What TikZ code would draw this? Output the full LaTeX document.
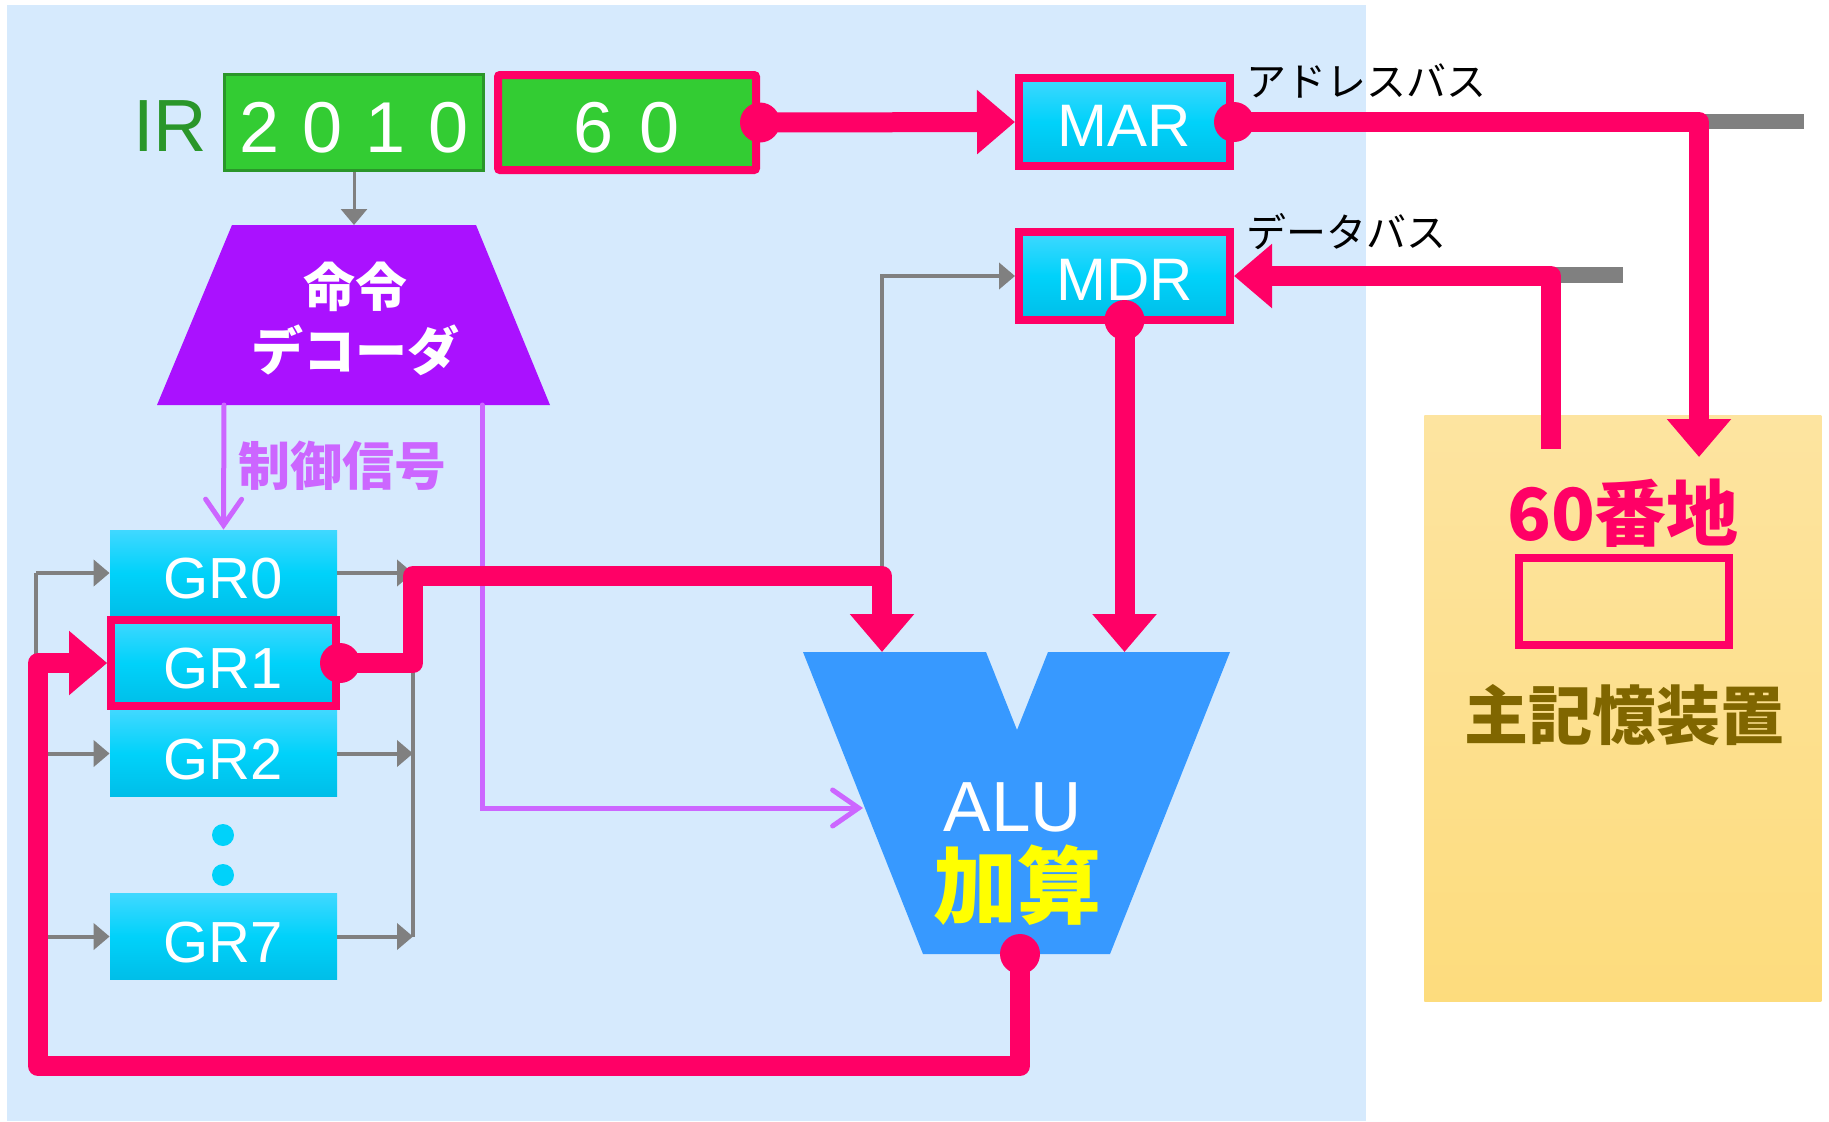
\documentclass[tikz,border=0pt]{standalone}
\usepackage{fontspec}
\setmainfont{Liberation Sans}
\newfontfamily\jp{Noto Sans CJK JP}
\usetikzlibrary{arrows.meta,calc}
\definecolor{bgblue}{RGB}{214,234,253}
\definecolor{hot}{RGB}{255,0,102}
\definecolor{irgreen}{RGB}{51,204,51}
\definecolor{irdark}{RGB}{42,150,42}
\definecolor{decp}{RGB}{170,17,255}
\definecolor{sigp}{RGB}{204,102,255}
\definecolor{cyT}{RGB}{64,216,255}
\definecolor{cyM}{RGB}{0,210,250}
\definecolor{cyB}{RGB}{0,190,232}
\definecolor{alub}{RGB}{55,153,255}
\definecolor{memT}{RGB}{253,228,160}
\definecolor{memB}{RGB}{253,220,125}
\definecolor{olive}{RGB}{128,102,0}
\definecolor{busg}{RGB}{128,128,128}
\definecolor{ylw}{RGB}{255,255,0}
\begin{document}
\begin{tikzpicture}[x=0.5pt,y=-0.5pt,
  cyanbox/.style={inner sep=0pt, top color=cyT, bottom color=cyB, middle color=cyM, text=white},
  reg/.style={cyanbox, font=\fontsize{29}{29}\selectfont, text height=25.5pt, text depth=0pt, minimum width=113.5pt, minimum height=43pt},
  hotbox/.style={cyanbox, draw=hot, line width=4pt, font=\fontsize{30}{30}\selectfont, text height=24.5pt, text depth=0pt, minimum width=105.5pt, minimum height=44pt},
  hotline/.style={draw=hot, line width=10pt, line join=round},
  hotarrow/.style={hotline, -{Triangle[width=31pt,length=19pt]}},
  dot/.style={circle, fill=hot, inner sep=0pt, minimum size=20pt},
  graylin/.style={draw=busg, line width=2pt},
  grayarrow/.style={graylin, -{Triangle[width=13pt,length=8pt]}},
  sigarrow/.style={draw=sigp, line width=2.5pt, line cap=round, -{Straight Barb[width=18pt,length=13pt,line cap=round]}},
  cdot/.style={circle, fill=cyM, inner sep=0pt, minimum size=11pt}
]
\useasboundingbox (0,0) rectangle (1829,1121);
\fill[white] (0,0) rectangle (1829,1121);
\fill[bgblue] (7,5) rectangle (1366,1121);

% main memory
\node[inner sep=0pt, minimum width=198.5pt, minimum height=293pt, top color=memT, bottom color=memB, anchor=north west] (mem) at (1424,415) {};
\node[text=hot, font=\jp\bfseries\fontsize{36}{36}\selectfont] (addr60) at (1623,513) {60番地};
\node[draw=hot, line width=4pt, minimum width=105pt, minimum height=43.5pt, inner sep=0pt] (cell) at (1624,601.5) {};
\node[text=olive, font=\jp\bfseries\fontsize{32}{32}\selectfont] (mainmem) at (1624,715) {主記憶装置};

% buses
\coordinate (abusEnd) at (1804,121.5);
\coordinate (dbusEnd) at (1623,275);
\draw[busg, line width=7.5pt] (1695,121.5) -- (abusEnd);
\draw[busg, line width=8pt] (1545,275) -- (dbusEnd);
\node[anchor=west, inner sep=0pt, font=\jp\fontsize{20}{20}\selectfont] (abus) at (1246,81) {アドレスバス};
\node[anchor=west, inner sep=0pt, font=\jp\fontsize{20}{20}\selectfont] (dbus) at (1246,232) {データバス};

% IR
\node[anchor=base, text=irdark, inner sep=0pt, font=\fontsize{37}{37}\selectfont] (ir) at (170,151) {IR};
\node[draw=irdark, line width=1.5pt, fill=irgreen, minimum width=129.5pt, minimum height=48pt, inner sep=0pt, text=white, text height=29.5pt, text depth=0pt, font=\fontsize{36}{36}\selectfont] (op) at (354,122.5) {2\kern11.5pt 0\kern11.5pt 1\kern11.5pt 0};
\node[draw=hot, line width=4pt, fill=irgreen, rounded corners=1pt, minimum width=129pt, minimum height=47.5pt, inner sep=0pt, text=white, text height=29.5pt, text depth=0pt, font=\fontsize{36}{36}\selectfont] (adr) at (627,122.5) {6\kern13pt 0};

% decoder
\fill[decp] (232,225) -- (476,225) -- (550,405) -- (157,405) -- cycle;
\node[text=white, align=center, font=\jp\bfseries\fontsize{26}{32}\selectfont] (dec) at (355,319) {命令\\デコーダ};
\coordinate (dectop) at (354,225);
\coordinate (decL) at (224,405);
\coordinate (decR) at (482,405);
\node[text=sigp, font=\jp\bfseries\fontsize{26}{26}\selectfont] (sig) at (342,466) {制御信号};

% MAR / MDR
\node[hotbox] (mar) at (1124.5,122) {MAR};
\node[hotbox] (mdr) at (1124.5,276) {MDR};

% registers
\node[reg] (gr0) at (223.5,573) {GR0};
\node[reg, draw=hot, line width=4pt, minimum width=112.5pt, minimum height=43pt] (gr1) at (223.5,663) {GR1};
\node[reg] (gr2) at (223.5,753.5) {GR2};
\node[reg] (gr7) at (223.5,936.5) {GR7};
\node[cdot] (dotA) at (223,835) {};
\node[cdot] (dotB) at (223,875) {};

% ALU
\fill[alub] (803,652) -- (986,652) -- (1017,730) -- (1048,652) -- (1230,652) -- (1110,954) -- (923,954) -- cycle;
\node[anchor=base, inner sep=0pt, text=white, font=\fontsize{35.5}{35.5}\selectfont] (alu) at (1013,831) {ALU};
\node[text=ylw, font=\jp\bfseries\fontsize{42}{42}\selectfont] (add) at (1017,885) {加算};
\coordinate (aluA) at (882,652);
\coordinate (aluB) at (1124.5,652);
\coordinate (aluL) at (863,808);
\coordinate (aluBot) at (1020,954);
\coordinate (memA) at (1699,457);
\coordinate (memD) at (1551,449);

% gray connectors
\draw[grayarrow, line width=1.5pt] (op.south) -- (dectop);
\coordinate (lb0) at (36,573);
\coordinate (lb7) at (36,936.5);
\coordinate (rb0) at (413,573);
\coordinate (rb7) at (413,936.5);
\draw[graylin] (lb0) -- (lb7);
\draw[grayarrow] (lb0) -- (gr0.west);
\draw[grayarrow] (36,663) -- (gr1.west);
\draw[grayarrow] (36,753.5) -- (gr2.west);
\draw[grayarrow] (lb7) -- (gr7.west);
\draw[grayarrow] (gr0.east) -- (rb0);
\draw[grayarrow] (gr2.east) -- (413,753.5);
\draw[grayarrow] (gr7.east) -- (rb7);
\draw[graylin] (rb0) -- (rb7);
\draw[grayarrow] (rb0) -- (882,573) |- (mdr.west);

% control signals
\draw[sigarrow] (decL) -- (gr0.north);
\draw[sigarrow] (decR) |- (aluL);

% red data path
\coordinate (p60) at (adr.east);
\coordinate (pmar) at (mar.east);
\coordinate (pmdr) at ($(mdr.south)+(0,-4)$);
\coordinate (pgr1) at (gr1.east);
\draw[hotarrow] (p60) -- (mar.west);
\draw[hotarrow] (pmar) -| (memA);
\draw[hotarrow] (memD) |- (mdr.east);
\draw[hotarrow] (pmdr) -- (aluB);
\draw[hotarrow] (pgr1) -| (413,576) -| (aluA);
\draw[hotarrow] (aluBot) |- (38,1066) |- (gr1.west);
\node[dot] (d60) at (p60) {};
\node[dot] (dmar) at (pmar) {};
\node[dot] (dmdr) at (pmdr) {};
\node[dot] (dgr1) at (pgr1) {};
\node[dot] (dalu) at (aluBot) {};
\end{tikzpicture}
\end{document}
